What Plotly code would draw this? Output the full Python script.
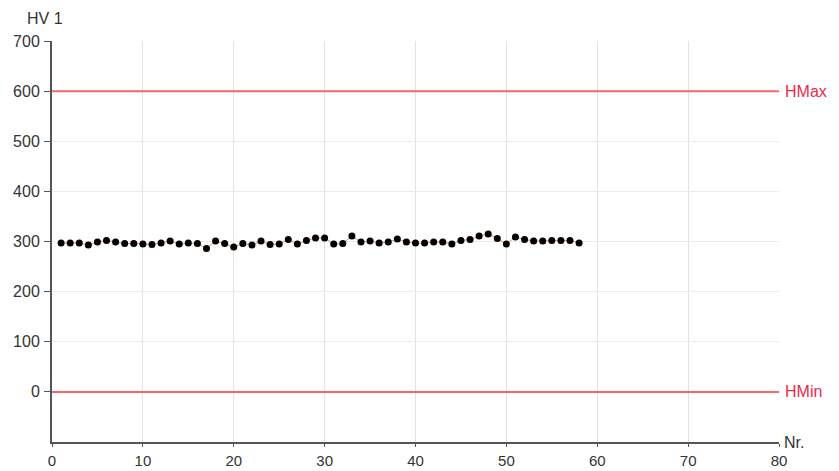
import plotly.graph_objects as go

nr = list(range(1, 59))
hv1 = [297, 297, 297, 293, 299, 302, 299, 296, 296, 295,
       294, 297, 301, 295, 297, 296, 286, 301, 296, 289,
       296, 293, 301, 294, 295, 304, 295, 302, 307, 307,
       295, 296, 311, 299, 301, 297, 299, 305, 299, 297,
       297, 299, 299, 295, 302, 304, 311, 315, 306, 295,
       309, 304, 301, 301, 302, 302, 302, 297]
h_max = 600
h_min = 0
x_ticks = [0, 10, 20, 30, 40, 50, 60, 70, 80]
y_ticks = [0, 100, 200, 300, 400, 500, 600, 700]

font_family = "Liberation Sans, Arial, sans-serif"
red = "#f06a6a"
label_red = "#e8284e"
fs = 16

fig = go.Figure()
fig.add_trace(go.Scatter(
    x=nr, y=hv1, mode="lines+markers",
    line=dict(color="#e8935c", width=1),
    marker=dict(color="#000000", size=7),
    showlegend=False, hoverinfo="x+y",
))

for val in (h_max, h_min):
    fig.add_shape(type="line", xref="x domain", yref="y",
                  x0=0, x1=1, y0=val, y1=val,
                  line=dict(color=red, width=2), layer="above")

fig.add_annotation(text="HMax", xref="paper", yref="y", x=1, y=h_max,
                   xanchor="left", yanchor="middle", xshift=4, showarrow=False,
                   font=dict(family=font_family, size=fs, color=label_red))
fig.add_annotation(text="HMin", xref="paper", yref="y", x=1, y=h_min,
                   xanchor="left", yanchor="middle", xshift=4, showarrow=False,
                   font=dict(family=font_family, size=fs, color=label_red))
fig.add_annotation(text="Nr.", xref="paper", yref="paper", x=1, y=0,
                   xanchor="left", yanchor="middle", xshift=3, showarrow=False,
                   font=dict(family=font_family, size=fs, color="#333333"))
fig.add_annotation(text="HV 1", xref="paper", yref="paper", x=0, y=1,
                   xanchor="center", yanchor="bottom", xshift=-7, yshift=12,
                   showarrow=False,
                   font=dict(family=font_family, size=fs, color="#333333"))

fig.update_layout(
    template="none",
    width=831, height=463,
    margin=dict(l=44, r=60, t=33, b=29, pad=0),
    paper_bgcolor="white", plot_bgcolor="white",
    font=dict(family=font_family, size=fs, color="#333333"),
    xaxis=dict(range=[0, 80], tickvals=x_ticks, showgrid=True,
               gridcolor="#e2e2e2", gridwidth=1, zeroline=False,
               showline=True, linecolor="#555555", linewidth=2,
               ticks="outside", ticklen=3, tickcolor="#555555",
               ticklabelstandoff=1, automargin=False,
               tickfont=dict(size=15)),
    yaxis=dict(range=[-100, 700], tickvals=y_ticks, showgrid=True,
               gridcolor="#ececec", gridwidth=1, zeroline=False,
               showline=True, linecolor="#555555", linewidth=2,
               ticks="outside", ticklen=6, tickcolor="#555555",
               ticklabelstandoff=1, automargin=False),
)

fig.write_html("out.html")
